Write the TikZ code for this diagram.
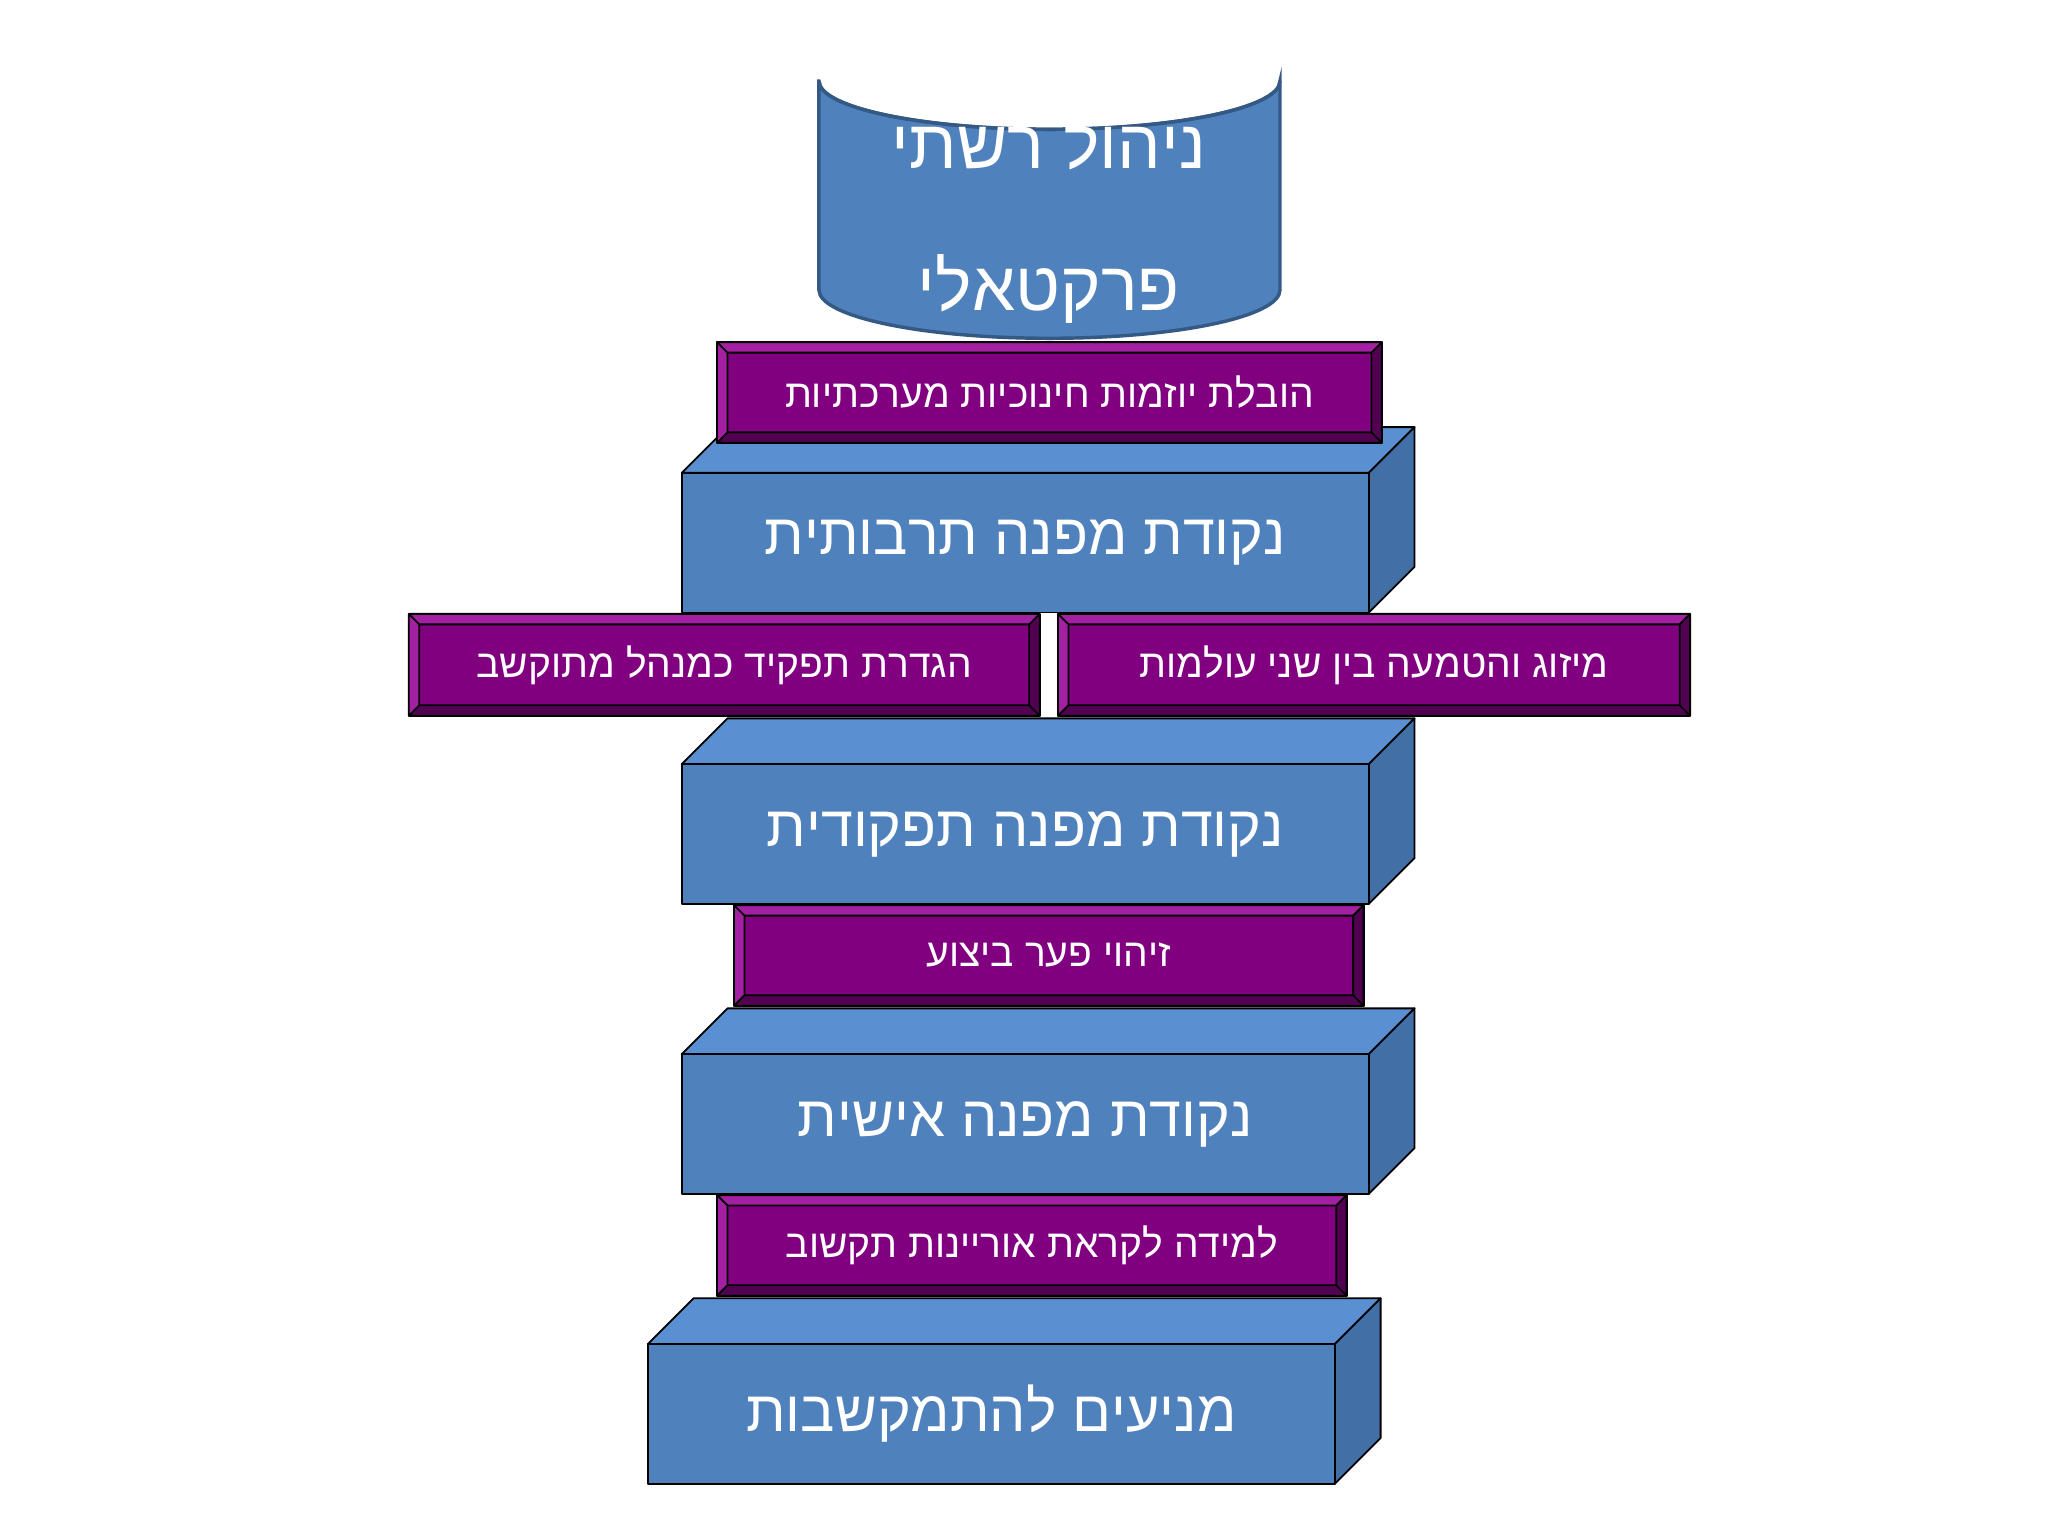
\documentclass[tikz,border=0pt]{standalone}
\usepackage{fontspec}
\setmainfont{Liberation Sans}
\TeXXeTstate=1
\definecolor{cfront}{HTML}{4F81BD}
\definecolor{ctop}{HTML}{5A8FD2}
\definecolor{cside}{HTML}{416FA6}
\definecolor{pur}{HTML}{800080}
\definecolor{purl}{HTML}{A320A3}
\definecolor{purd}{HTML}{520052}
\tikzset{edge/.style={draw=black,line width=0.8pt,line join=round},
 big/.style={text=white,font=\fontsize{25}{30}\selectfont},
 small/.style={text=white,font=\fontsize{17}{20}\selectfont}}
\newcommand{\mycube}[6]{% x1 y1 x2 y2 name text
 \fill[ctop,edge] (#1,#2) -- ++(35,-35) -- (#3+35,#2-35) -- (#3,#2) -- cycle;
 \fill[cside,edge] (#3,#2) -- (#3+35,#2-35) -- (#3+35,#4-35) -- (#3,#4) -- cycle;
 \fill[cfront,edge] (#1,#2) rectangle (#3,#4);
 \node[big] (#5) at ({(#1+#3)/2},{(#2+#4)/2}) {\beginR #6\endR};}
\newcommand{\mybevel}[6]{%
 \fill[pur,edge] (#1,#2) rectangle (#3,#4);
 \fill[purl] (#1,#2) -- (#3,#2) -- (#3-8,#2+8) -- (#1+8,#2+8) -- cycle;
 \fill[purl] (#1,#2) -- (#1+8,#2+8) -- (#1+8,#4-8) -- (#1,#4) -- cycle;
 \fill[purd] (#3,#2) -- (#3,#4) -- (#3-8,#4-8) -- (#3-8,#2+8) -- cycle;
 \fill[purd] (#1,#4) -- (#3,#4) -- (#3-8,#4-8) -- (#1+8,#4-8) -- cycle;
 \draw[edge] (#1,#2) rectangle (#3,#4) (#1+8,#2+8) rectangle (#3-8,#4-8)
  (#1,#2) -- (#1+8,#2+8) (#3,#2) -- (#3-8,#2+8) (#1,#4) -- (#1+8,#4-8) (#3,#4) -- (#3-8,#4-8);
 \node[small] (#5) at ({(#1+#3)/2},{(#2+#4)/2}) {\beginR #6\endR};}
\begin{document}
\begin{tikzpicture}[x=0.02cm,y=-0.02cm]
\useasboundingbox (0,0) rectangle (1568,1176);
\fill[white] (0,0) rectangle (1568,1176);
% cylinder
\fill[cfront,draw=cside!80!black,line width=1.5pt] (627,62) -- (627,222) arc[start angle=180,end angle=360,x radius=176.5,y radius=-37] -- (980,62) arc[start angle=0,end angle=-180,x radius=176.5,y radius=-37] -- cycle;
\draw[cside!80!black,line width=1.5pt] (627,62) arc[start angle=180,end angle=360,x radius=176.5,y radius=-37];
\node[big,align=center,font=\fontsize{30}{62}\selectfont] (cyl) at (803,167) {\beginR ניהול רשתי\endR\\\beginR פרקטאלי\endR};
\mycube{522}{362}{1048}{469}{c1}{נקודת מפנה תרבותית}
\mycube{522}{585}{1048}{692}{c2}{נקודת מפנה תפקודית}
\mycube{522}{807}{1048}{914}{c3}{נקודת מפנה אישית}
\mycube{496}{1029}{1022}{1136}{c4}{מניעים להתמקשבות}
\mybevel{549}{262}{1058}{339}{pa}{הובלת יוזמות חינוכיות מערכתיות}
\mybevel{313}{470}{796}{548}{pb}{הגדרת תפקיד כמנהל מתוקשב}
\mybevel{810}{470}{1294}{548}{pc}{מיזוג והטמעה בין שני עולמות}
\mybevel{562}{693}{1044}{770}{pd}{זיהוי פער ביצוע}
\mybevel{549}{915}{1031}{992}{pe}{למידה לקראת אוריינות תקשוב}
\end{tikzpicture}
\end{document}
